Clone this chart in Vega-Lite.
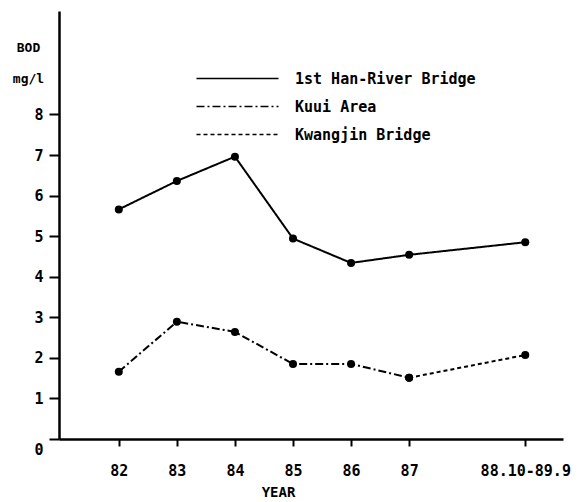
{
  "$schema": "https://vega.github.io/schema/vega-lite/v6.json",
  "width": 504,
  "height": 428,
  "autosize": "none",
  "padding": {"left": 59, "top": 11, "right": 16, "bottom": 63},
  "background": "white",
  "config": {"view": {"stroke": null}, "font": "DejaVu Sans Mono"},
  "data": {
    "values": [
      {"year": 82, "series": "1st Han-River Bridge", "bod": 5.66},
      {"year": 83, "series": "1st Han-River Bridge", "bod": 6.36},
      {"year": 84, "series": "1st Han-River Bridge", "bod": 6.96},
      {"year": 85, "series": "1st Han-River Bridge", "bod": 4.94},
      {"year": 86, "series": "1st Han-River Bridge", "bod": 4.34},
      {"year": 87, "series": "1st Han-River Bridge", "bod": 4.54},
      {"year": 89, "series": "1st Han-River Bridge", "bod": 4.85},
      {"year": 82, "series": "Kuui Area", "bod": 1.66},
      {"year": 83, "series": "Kuui Area", "bod": 2.89},
      {"year": 84, "series": "Kuui Area", "bod": 2.64},
      {"year": 85, "series": "Kuui Area", "bod": 1.85},
      {"year": 86, "series": "Kuui Area", "bod": 1.85},
      {"year": 87, "series": "Kuui Area", "bod": 1.51},
      {"year": 87, "series": "Kwangjin Bridge", "bod": 1.51},
      {"year": 89, "series": "Kwangjin Bridge", "bod": 2.07}
    ]
  },
  "encoding": {
    "x": {
      "field": "year",
      "type": "quantitative",
      "scale": {"domain": [80.97, 89.65], "nice": false, "zero": false},
      "axis": {
        "values": [82, 83, 84, 85, 86, 87, 89],
        "labelExpr": "datum.value == 89 ? '88.10-89.9' : datum.label",
        "grid": false,
        "domainColor": "black",
        "domainWidth": 2.5,
        "tickColor": "black",
        "tickWidth": 2,
        "tickSize": 7,
        "labelPadding": 17,
        "labelFont": "DejaVu Sans Mono",
        "labelFontSize": 15,
        "labelFontWeight": "bold",
        "labelColor": "black",
        "labelFlush": false,
        "labelOverlap": false,
        "title": "YEAR",
        "titleFont": "DejaVu Sans Mono",
        "titleFontSize": 14,
        "titleFontWeight": "bold",
        "titleColor": "black",
        "titleX": 219,
        "titleY": 57,
        "titleBaseline": "alphabetic"
      }
    },
    "y": {
      "field": "bod",
      "type": "quantitative",
      "scale": {"domain": [0, 10.55], "nice": false},
      "axis": {
        "values": [0, 1, 2, 3, 4, 5, 6, 7, 8],
        "grid": false,
        "domainColor": "black",
        "domainWidth": 2.5,
        "tickColor": "black",
        "tickWidth": 2,
        "tickSize": 10,
        "labelPadding": 6,
        "labelOffset": {"condition": {"test": "datum.value === 0", "value": 10}, "value": 0},
        "labelFont": "DejaVu Sans Mono",
        "labelFontSize": 15,
        "labelFontWeight": "bold",
        "labelColor": "black",
        "labelFlush": false,
        "labelOverlap": false,
        "title": ["BOD", "mg/l"],
        "titleAngle": 0,
        "titleAlign": "center",
        "titleBaseline": "top",
        "titleX": -31,
        "titleY": 30,
        "titleLineHeight": 31,
        "titleFont": "DejaVu Sans Mono",
        "titleFontSize": 13,
        "titleFontWeight": "bold",
        "titleColor": "black"
      }
    }
  },
  "layer": [
    {
      "mark": {"type": "line", "strokeWidth": 2, "color": "black"},
      "encoding": {
        "strokeDash": {
          "field": "series",
          "type": "nominal",
          "scale": {
            "domain": ["1st Han-River Bridge", "Kuui Area", "Kwangjin Bridge"],
            "range": [[1, 0], [8, 3, 2, 3], [4, 3]]
          },
          "legend": {
            "title": null,
            "orient": "none",
            "legendX": 171,
            "legendY": 60,
            "symbolType": "M-8.2,0H8.2",
            "symbolSize": 100,
            "symbolStrokeWidth": 1.5,
            "symbolStrokeColor": "black",
            "labelFont": "DejaVu Sans Mono",
            "labelFontWeight": "bold",
            "labelFontSize": 15,
            "labelColor": "black",
            "labelOffset": 50,
            "labelLimit": 0,
            "rowPadding": 12,
            "padding": 0
          }
        }
      }
    },
    {
      "mark": {"type": "point", "filled": true, "color": "black", "size": 64, "opacity": 1}
    }
  ]
}
